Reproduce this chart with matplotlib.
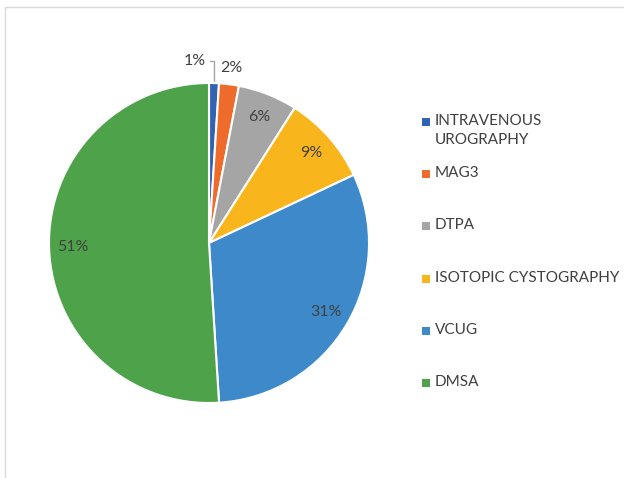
import numpy as np
import matplotlib
matplotlib.use("Agg")
import matplotlib.pyplot as plt
from matplotlib.patches import Rectangle

# data
categories = ["INTRAVENOUS\nUROGRAPHY", "MAG3", "DTPA", "ISOTOPIC CYSTOGRAPHY", "VCUG", "DMSA"]
shares = [1, 2, 6, 9, 31, 51]
colors = ["#3262B4", "#EE6B2C", "#A5A5A5", "#F8B51C", "#3D89C9", "#4EA34A"]

plt.rcParams["font.family"] = ["Lato", "DejaVu Sans"]
TEXT = "#404040"

W, H = 624, 478
fig = plt.figure(figsize=(W / 100, H / 100), dpi=100)
fig.patch.set_facecolor("white")

# outer frame (only top/left visible in the crop)
fig.add_artist(Rectangle((5 / W, -0.1), 1.2, 1.1 - 7 / H, transform=fig.transFigure,
                         fill=False, edgecolor="#D9D9D9", linewidth=1.0))

# pie axes: centre at (209, 243) px, radius 160 px
R = 160
lim = 1.2
side = 2 * R * lim
cx, cy = 209, H - 243
ax = fig.add_axes([(cx - side / 2) / W, (cy - side / 2) / H, side / W, side / H])

wedges, _ = ax.pie(shares, colors=colors, startangle=90, counterclock=False,
                   radius=1.0, wedgeprops=dict(edgecolor="white", linewidth=1.5))
ax.set_xlim(-lim, lim)
ax.set_ylim(-lim, lim)
ax.set_aspect("equal")
ax.axis("off")

for w, val in zip(wedges, shares):
    mid = np.deg2rad((w.theta1 + w.theta2) / 2)
    label = f"{val}%"
    if val == min(shares):
        ax.annotate(label, xy=(np.cos(mid), np.sin(mid) + 0.01),
                    xytext=(-14, 15), textcoords="offset points",
                    ha="center", va="center", fontsize=11.5, color=TEXT,
                    arrowprops=dict(arrowstyle="-", color="#A6A6A6", lw=1.0,
                                    connectionstyle="angle,angleA=0,angleB=90,rad=0",
                                    shrinkA=1, shrinkB=0))
    elif val < 5:
        ax.text(1.1 * np.cos(mid), 1.1 * np.sin(mid), label, ha="center", va="center",
                fontsize=11.5, color=TEXT)
    else:
        ax.text(0.85 * np.cos(mid), 0.85 * np.sin(mid), label, ha="center", va="center",
                fontsize=11.5, color=TEXT)

# legend, evenly spaced entries like the original
top_y = 122
step = 52.2
for i, (name, col) in enumerate(zip(categories, colors)):
    y = H - (top_y + i * step)
    fig.add_artist(Rectangle((422 / W, (y - 4) / H), 8 / W, 8 / H,
                             transform=fig.transFigure, facecolor=col, edgecolor="none"))
    fig.text(435 / W, (y + 8) / H, name, ha="left", va="top", fontsize=11,
             color=TEXT, linespacing=1.42)

fig.savefig("out.png", dpi=100, facecolor="white")
